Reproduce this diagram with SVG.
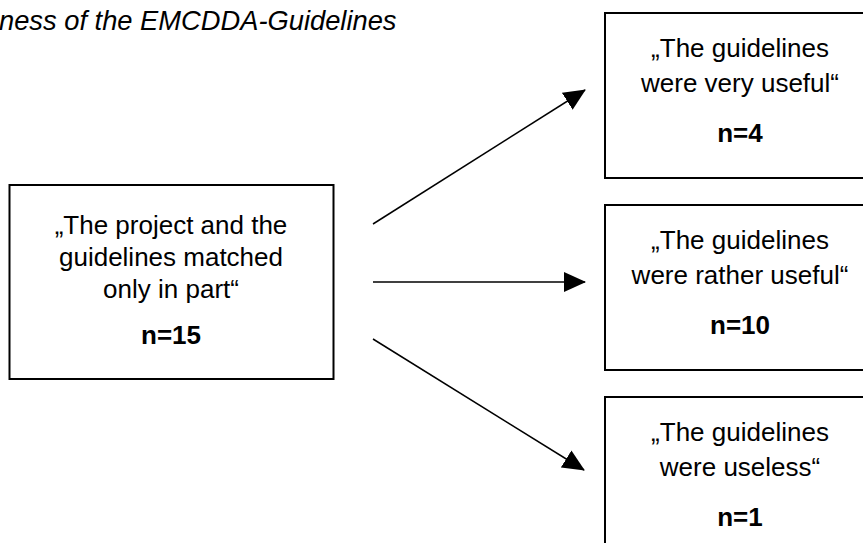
<svg xmlns="http://www.w3.org/2000/svg" width="863" height="543" viewBox="0 0 863 543">
<style>
  .box { fill: #fff; stroke: #000; stroke-width: 2; }
  .t { font-family: "Liberation Sans", Arial, sans-serif; font-size: 26px; fill: #000; text-anchor: middle; }
  .b { font-weight: bold; }
  .title { font-family: "Liberation Sans", Arial, sans-serif; font-size: 27.3px; font-style: italic; fill: #000; }
  .conn { stroke: #000; stroke-width: 1.5; fill: none; marker-end: url(#ah); }
</style>
<defs>
  <marker id="ah" markerUnits="userSpaceOnUse" markerWidth="22" markerHeight="22" viewBox="0 0 22 20" refX="21" refY="10" orient="auto">
    <path d="M0,0 L22,10 L0,20 Z" fill="#000"/>
  </marker>
</defs>
<rect width="863" height="543" fill="#fff"/>
<text class="title" x="-1" y="30">ness of the EMCDDA-Guidelines</text>
<g id="source">
  <rect class="box" x="9.5" y="185" width="324" height="194"/>
  <text class="t" x="171" y="234">„The project and the</text>
  <text class="t" x="171" y="266">guidelines matched</text>
  <text class="t" x="171" y="298">only in part“</text>
  <text class="t b" x="171" y="344">n=15</text>
</g>
<g id="very-useful">
  <rect class="box" x="605" y="13" width="270" height="165"/>
  <text class="t" x="740" y="57">„The guidelines</text>
  <text class="t" x="740" y="92">were very useful“</text>
  <text class="t b" x="740" y="142">n=4</text>
</g>
<g id="rather-useful">
  <rect class="box" x="605" y="205" width="270" height="165"/>
  <text class="t" x="740" y="249">„The guidelines</text>
  <text class="t" x="740" y="284">were rather useful“</text>
  <text class="t b" x="740" y="334">n=10</text>
</g>
<g id="useless">
  <rect class="box" x="605" y="397" width="270" height="165"/>
  <text class="t" x="740" y="441">„The guidelines</text>
  <text class="t" x="740" y="476">were useless“</text>
  <text class="t b" x="740" y="526">n=1</text>
</g>
<g id="connectors">
  <line class="conn" x1="373" y1="224" x2="585" y2="90"/>
  <line class="conn" x1="373" y1="282" x2="585" y2="282"/>
  <line class="conn" x1="373" y1="339" x2="584" y2="470"/>
</g>
</svg>
